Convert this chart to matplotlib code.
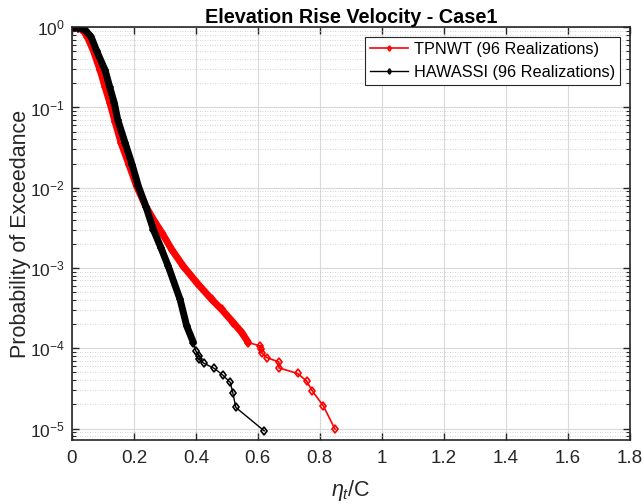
#Exceedance probability of elevation rise velocity
import numpy as np
import matplotlib
matplotlib.use("Agg")
import matplotlib.pyplot as plt

plt.rcParams['font.family'] = ['Liberation Sans', 'DejaVu Sans']
plt.rcParams['mathtext.fontset'] = 'custom'
plt.rcParams['mathtext.rm'] = 'Liberation Sans'
plt.rcParams['mathtext.it'] = 'Liberation Sans:italic'

#TPNWT data
tp_x = [0.0, 0.01, 0.02, 0.03, 0.04, 0.05, 0.07, 0.091, 0.107, 0.123, 0.14, 0.159,
        0.185, 0.209, 0.239, 0.265, 0.29, 0.322, 0.3595, 0.403, 0.451, 0.483, 0.521,
        0.548, 0.569, 0.607, 0.610, 0.613, 0.628, 0.668, 0.668, 0.728, 0.757, 0.776,
        0.811, 0.849]
tp_y = [1.0, 1.0, 0.99, 0.96, 0.88, 0.76, 0.5, 0.292, 0.18, 0.113, 0.065, 0.0359,
        0.019, 0.0104, 0.0058, 0.0039, 0.00276, 0.0017, 0.00105, 0.000655, 0.000406,
        0.000305, 0.000208, 0.000157, 0.000118, 0.000107, 9.7e-5, 8.8e-5, 7.66e-5,
        6.76e-5, 5.69e-5, 4.86e-5, 3.92e-5, 2.92e-5, 1.92e-5, 9.8e-6]

#HAWASSI data
hw_x = [0.0, 0.01, 0.02, 0.032, 0.045, 0.062, 0.0805, 0.107, 0.122, 0.137, 0.148, 0.172,
        0.195, 0.2146, 0.239, 0.263, 0.287, 0.311, 0.349, 0.3705, 0.392, 0.400, 0.410,
        0.411, 0.426, 0.460, 0.486, 0.511, 0.519, 0.529, 0.6205]
hw_y = [1.0, 1.0, 0.99, 0.97, 0.9, 0.758, 0.5, 0.292, 0.18, 0.113, 0.070, 0.0359,
        0.019, 0.0104, 0.0058, 0.0030, 0.0018, 0.00105, 0.000406, 0.000189, 0.000118,
        9.25e-5, 8.0e-5, 7.3e-5, 6.5e-5, 5.6e-5, 4.66e-5, 3.75e-5, 2.8e-5, 1.83e-5, 9.35e-6]

fig = plt.figure(figsize=(6.42, 5.04), dpi=100)
ax = fig.add_axes([0.112, 0.127, 0.869, 0.819])

#dense part of each curve, where the markers overlap into a band
ax.semilogy(tp_x[:25], tp_y[:25], color='red', lw=5, solid_capstyle='round')
ax.semilogy(tp_x, tp_y, '-d', color='red', mfc='none', ms=4.5, mew=1.2, lw=1.2,
            label='TPNWT (96 Realizations)')
ax.semilogy(hw_x[:21], hw_y[:21], color='black', lw=5, solid_capstyle='round')
ax.semilogy(hw_x, hw_y, '-d', color='black', mfc='none', ms=4.5, mew=1.2, lw=1.0,
            label='HAWASSI (96 Realizations)')

ax.set_xlim(0, 1.8)
ax.set_ylim(7.2e-6, 1)
ax.set_xticks(np.arange(0, 1.81, 0.2))
ax.set_xticklabels(['0', '0.2', '0.4', '0.6', '0.8', '1', '1.2', '1.4', '1.6', '1.8'])

ax.grid(True, which='major', color='0.85', lw=0.8)
ax.grid(True, which='minor', axis='y', color='0.78', lw=0.6, ls=(0, (1, 2)))
ax.tick_params(which='both', direction='in', top=True, right=True, colors='0.15',
               labelcolor='0.15')
ax.tick_params(axis='x', labelsize=13.5, pad=7)
ax.tick_params(axis='y', labelsize=12.5, pad=5)
ax.tick_params(which='major', length=5, width=1)
ax.tick_params(which='minor', length=3, width=0.8)
for s in ax.spines.values():
    s.set_color('0.15')
    s.set_linewidth(1.2)

ax.set_title('Elevation Rise Velocity - Case1', fontsize=14.3, fontweight='bold', pad=1)
ax.set_xlabel(r'$\eta_t$/C', fontsize=15.5, color='0.15', labelpad=8)
ax.set_ylabel('Probability of Exceedance', fontsize=15.5, color='0.15', labelpad=-1)

leg = ax.legend(loc='upper right', fontsize=11.7, fancybox=False, framealpha=1,
                edgecolor='0.15', handlelength=2.3, borderaxespad=0.6, markerscale=0.6,
                borderpad=0.3, handletextpad=0.4)
leg.get_frame().set_linewidth(0.8)

fig.savefig('out.png', dpi=100)
